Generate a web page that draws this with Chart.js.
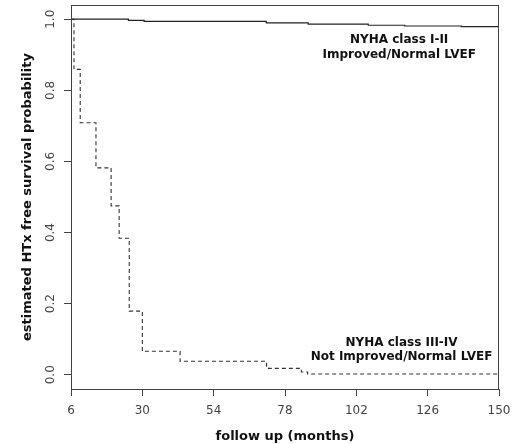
<!DOCTYPE html>
<html>
<head>
<meta charset="utf-8">
<script src="https://cdn.jsdelivr.net/npm/chart.js@4/dist/chart.umd.min.js"></script>
<style>
  html, body { margin: 0; padding: 0; background: #fff; }
  #wrap { width: 514px; height: 444px; }
</style>
</head>
<body>
<div id="wrap"><canvas id="kmChart" width="514" height="444"></canvas></div>
<script>
// Kaplan-Meier curves (months, survival)
const goodTimes = [6, 25.3, 30.6, 71.7, 85.8, 106, 118.3, 137.3, 150];
const goodSurv  = [1.0, 0.997, 0.994, 0.990, 0.986, 0.983, 0.981, 0.979, 0.979];

const poorTimes = [6, 7, 9.1, 14.4, 19.5, 22.2, 25.6, 30, 42.7, 71.8, 83.5, 85.6, 150];
const poorSurv  = [1.0, 0.859, 0.709, 0.582, 0.475, 0.384, 0.179, 0.066, 0.038, 0.018, 0.008, 0.002, 0.002];

const xTicks = [6, 30, 54, 78, 102, 126, 150];
const yTicks = [0, 0.2, 0.4, 0.6, 0.8, 1.0];

const goodLabel = ['NYHA class I-II', 'Improved/Normal LVEF'];
const poorLabel = ['NYHA class III-IV', 'Not Improved/Normal LVEF'];

const toPoints = (xs, ys) => xs.map((x, i) => ({ x: x, y: ys[i] }));

// no extra room for the end labels, the plot box is fixed
const noPad = (scale) => {
    scale.paddingTop = 0;
    scale.paddingBottom = 0;
    scale.paddingLeft = 0;
    scale.paddingRight = 0;
};

// box around the plot region, like R's bty="o"
const boxPlugin = {
    id: 'box',
    afterDraw(chart) {
        const a = chart.chartArea;
        const ctx = chart.ctx;
        ctx.save();
        ctx.strokeStyle = '#444';
        ctx.lineWidth = 1;
        ctx.strokeRect(Math.round(a.left) + 0.5, Math.round(a.top) + 0.5,
            Math.round(a.right - a.left) - 1, Math.round(a.bottom - a.top));
        ctx.restore();
    }
};

// group labels inside the plot
const textPlugin = {
    id: 'groupText',
    afterDatasetsDraw(chart) {
        const ctx = chart.ctx;
        const xs = chart.scales.x, ys = chart.scales.y;
        const put = (lines, mx, top, gap) => {
            ctx.save();
            ctx.font = 'bold 12px "DejaVu Sans"';
            ctx.fillStyle = '#111';
            ctx.textAlign = 'center';
            ctx.textBaseline = 'middle';
            lines.forEach((t, i) => ctx.fillText(t, xs.getPixelForValue(mx), ys.getPixelForValue(top - i * gap)));
            ctx.restore();
        };
        put(goodLabel, 116.4, 0.942, 0.042);
        put(poorLabel, 117.2, 0.091, 0.040);
    }
};

new Chart(document.getElementById('kmChart').getContext('2d'), {
    type: 'line',
    data: {
        datasets: [
            {
                label: 'NYHA I-II',
                data: toPoints(goodTimes, goodSurv),
                stepped: true,
                borderColor: '#222',
                borderWidth: 1.2,
                pointRadius: 0,
                fill: false
            },
            {
                label: 'NYHA III-IV',
                data: toPoints(poorTimes, poorSurv),
                stepped: true,
                borderColor: '#333',
                borderWidth: 1.1,
                borderDash: [4, 3],
                pointRadius: 0,
                fill: false
            }
        ]
    },
    options: {
        responsive: false,
        animation: false,
        layout: { padding: { top: 5, right: 15, left: 0, bottom: 0 } },
        plugins: {
            legend: { display: false },
            tooltip: { enabled: false }
        },
        scales: {
            x: {
                type: 'linear',
                min: 6,
                max: 150,
                afterBuildTicks: (scale) => { scale.ticks = xTicks.map(v => ({ value: v })); },
                afterFit: (scale) => { scale.height = 55; noPad(scale); },
                grid: { drawOnChartArea: false, drawTicks: true, tickLength: 7, color: '#444' },
                border: { display: true, color: '#444', width: 1 },
                ticks: {
                    autoSkip: false,
                    maxRotation: 0,
                    padding: 8,
                    color: '#444',
                    font: { family: 'DejaVu Sans', size: 12 }
                },
                title: {
                    display: true,
                    text: 'follow up (months)',
                    color: '#111',
                    padding: { top: 0, bottom: 0 },
                    font: { family: 'DejaVu Sans', size: 13, weight: 'bold' }
                }
            },
            y: {
                type: 'linear',
                min: -0.04,
                max: 1.04,
                afterBuildTicks: (scale) => { scale.ticks = yTicks.map(v => ({ value: v })); },
                afterFit: (scale) => { scale.width = 71; noPad(scale); },
                grid: { drawOnChartArea: false, drawTicks: true, tickLength: 7, color: '#444' },
                border: { display: true, color: '#444', width: 1 },
                ticks: {
                    minRotation: 90,
                    maxRotation: 90,
                    crossAlign: 'center',
                    padding: 4,
                    color: '#444',
                    font: { family: 'DejaVu Sans', size: 12 },
                    callback: (v) => Number(v).toFixed(1)
                },
                title: {
                    display: true,
                    text: 'estimated HTx free survival probability',
                    color: '#111',
                    padding: { top: 20, bottom: 0 },
                    font: { family: 'DejaVu Sans', size: 13, weight: 'bold' }
                }
            }
        }
    },
    plugins: [boxPlugin, textPlugin]
});
</script>
</body>
</html>
